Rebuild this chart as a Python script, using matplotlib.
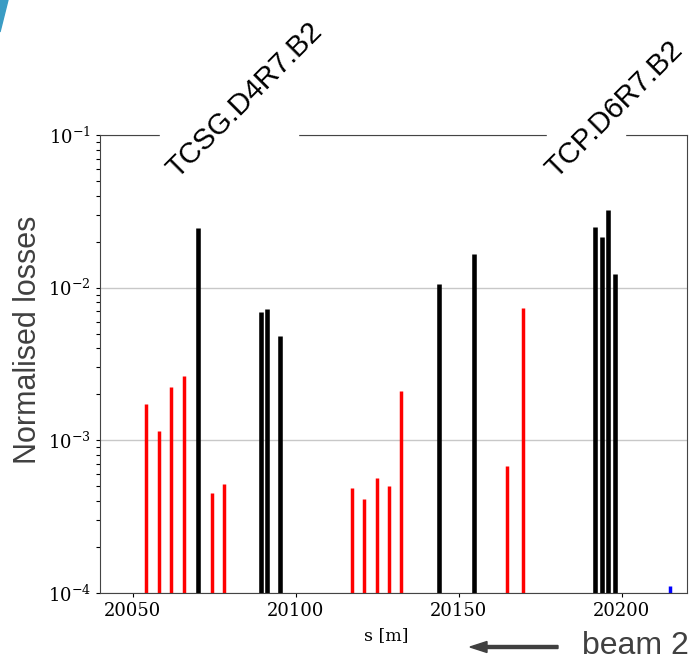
import numpy as np
import matplotlib.pyplot as plt
from matplotlib.patches import Polygon, FancyArrow, Rectangle

# loss map data
black_s = [20070.0, 20089.4, 20091.2, 20095.2, 20143.9, 20154.6,
           20191.9, 20193.9, 20195.8, 20197.9]
black_loss = [2.47e-2, 6.9e-3, 7.2e-3, 4.85e-3, 1.05e-2, 1.65e-2,
              2.5e-2, 2.14e-2, 3.23e-2, 1.22e-2]

red_s = [20054.2, 20058.2, 20061.9, 20065.7, 20074.3, 20078.1,
         20117.2, 20121.1, 20124.8, 20128.6, 20132.3, 20164.8, 20169.7]
red_loss = [1.72e-3, 1.15e-3, 2.24e-3, 2.64e-3, 4.55e-4, 5.15e-4,
            4.88e-4, 4.11e-4, 5.7e-4, 5.03e-4, 2.12e-3, 6.8e-4, 7.33e-3]

blue_s = [20214.7]
blue_loss = [1.11e-4]

xticks = [20050, 20100, 20150, 20200]
labels = ['TCSG.D4R7.B2', 'TCP.D6R7.B2']

plt.rcParams['mathtext.fontset'] = 'dejavuserif'

W, H = 696, 660
fig = plt.figure(figsize=(6.96, 6.6), dpi=100)
ax = fig.add_axes([100 / W, 1 - 593 / H, 587 / W, 458 / H])

ax.set_yscale('log')
ax.set_ylim(1e-4, 1e-1)
ax.set_xlim(20040, 20220)

ax.vlines(red_s, 1e-5, red_loss, color='red', lw=2.5)
ax.vlines(black_s, 1e-5, black_loss, color='black', lw=3.3)
ax.vlines(blue_s, 1e-5, blue_loss, color='blue', lw=2.5)

ax.grid(True, which='major', axis='y', color='#c8c8c8', lw=1)
ax.set_axisbelow(True)
ax.set_xticks(xticks)
for lab in ax.get_xticklabels() + ax.get_yticklabels():
    lab.set_family('DejaVu Serif')
ax.tick_params(labelsize=13)
ax.tick_params(which='both', length=3, width=0.8)
for sp in ax.spines.values():
    sp.set_color('#444444')

ax.set_xlabel('s [m]', family='DejaVu Serif', fontsize=12.5)
ax.xaxis.set_label_coords(0.488, -0.075)
fig.text(28 / W, 1 - 340 / H, 'Normalised losses', rotation=90, ha='center',
         va='center', family='Liberation Sans', fontsize=22, color='#404040')

# white patches that cut the top frame behind the names
for x0, x1 in [(160, 298), (547, 625)]:
    fig.patches.append(Rectangle((x0 / W, 1 - 139 / H), (x1 - x0) / W, 8 / H,
                                 color='white', transform=fig.transFigure,
                                 figure=fig, zorder=5))

# collimator names
for (px, py), name in zip([(177, 179), (556, 179)], labels):
    fig.text(px / W, 1 - py / H, name, rotation=45, rotation_mode='anchor',
             ha='left', va='baseline', fontsize=21, family='Liberation Sans',
             zorder=6)

# beam direction
fig.text(582 / W, 1 - 646 / H, 'beam 2', fontsize=23, family='Liberation Sans',
         color='#404040', va='center')
fig.patches.append(FancyArrow(
    558 / W, 1 - 647 / H, -88 / W, 0, width=3 / H, head_width=11 / H,
    head_length=17 / W, length_includes_head=True, color='#404040',
    transform=fig.transFigure, figure=fig))

# slide decoration in the corner
fig.patches.append(Polygon([[0, 1], [8 / W, 1], [0, 1 - 32 / H]],
                           closed=True, color='#3a9cc4',
                           transform=fig.transFigure, figure=fig))

fig.savefig('out.png', dpi=100)
